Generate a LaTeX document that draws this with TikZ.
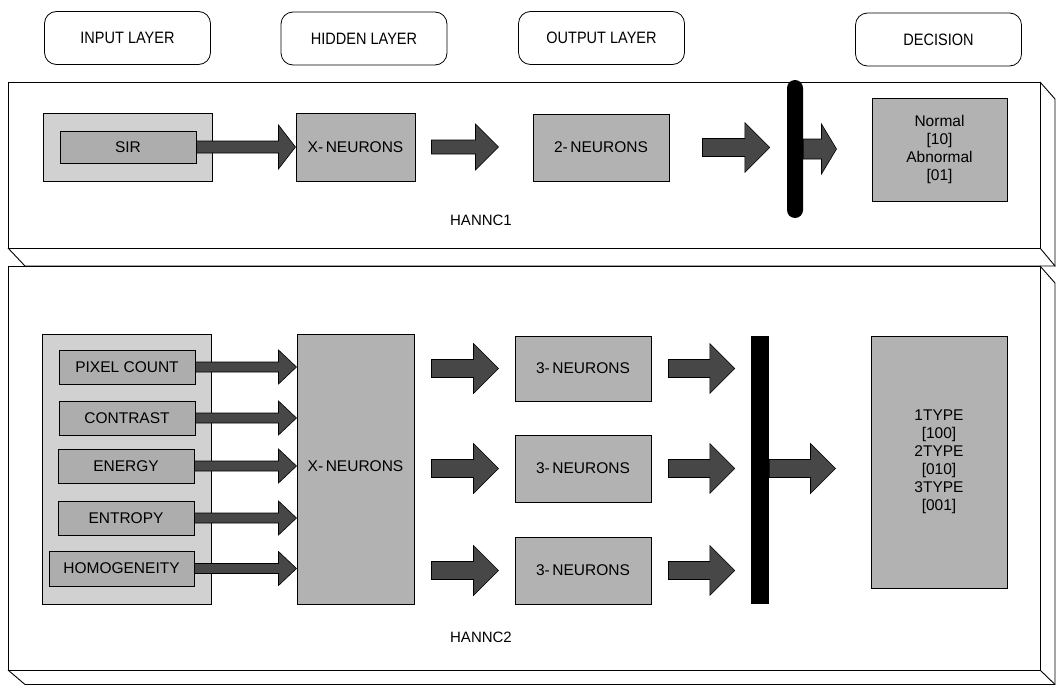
\documentclass[tikz,border=0pt]{standalone}
\usepackage{fontspec}
\setmainfont{Liberation Sans}
\newfontfamily\narrowfont[FakeStretch=0.88]{Liberation Sans}
\usetikzlibrary{calc}
\tikzset{
  hdr/.style={draw, rounded corners=12pt, minimum width=166pt, minimum height=53pt, line width=0.8pt,
    font=\narrowfont\fontsize{16.5}{18}\selectfont},
  panelline/.style={line width=0.9pt},
  outerbox/.style={draw, fill=black!18, line width=0.8pt, inner sep=0pt},
  inbox/.style={draw, fill=black!32, line width=1pt, inner sep=0pt, font=\fontsize{15.5}{18}\selectfont},
  neubox/.style={draw, fill=black!30, line width=1pt, inner sep=0pt, align=center, font=\fontsize{15.5}{18}\selectfont},
  arrowshape/.style={fill=black!72, draw=black, line width=0.6pt},
  barnode/.style={fill=black, inner sep=0pt},
  lbl/.style={font=\fontsize{15}{16}\selectfont}
}
% from, to, shorten start, shorten end, shaft half, head half, head length
\newcommand\blockarrow[7]{%
  \path (#1) coordinate (bas0);
  \path ($(bas0)+(#3,0)$) coordinate (bas);
  \path (bas -| #2) coordinate (bae0);
  \path ($(bae0)+(-#4,0)$) coordinate (bae);
  \filldraw[arrowshape] ($(bas)+(0,-#5)$) -- ($(bae)+(-#7,-#5)$) -- ($(bae)+(-#7,-#6)$) -- (bae)
    -- ($(bae)+(-#7,#6)$) -- ($(bae)+(-#7,#5)$) -- ($(bas)+(0,#5)$) -- cycle;}
\begin{document}
\begin{tikzpicture}[x=1pt,y=-1pt]
\useasboundingbox (0,0) rectangle (1056,685);
% header
\node[hdr] (hin)  at (127.5,38) {INPUT LAYER};
\node[hdr] (hhid) at (364,38.5) {HIDDEN LAYER};
\node[hdr] (hout) at (601.5,38) {OUTPUT LAYER};
\node[hdr] (hdec) at (938.5,39.5) {DECISION};
% panel 1
\draw[panelline] (8,82) rectangle (1040,248);
\draw[panelline] (1040,82) -- (1055,99) -- (1055,266);
\draw[panelline] (8,248) -- (25,266) -- (1055,266) -- (1040,248);
% panel 2
\draw[panelline] (8,266) rectangle (1040,670);
\draw[panelline] (1040,266) -- (1055,283) -- (1055,684.5) -- (25,684.5) -- (8,670);
\draw[panelline] (1040,670) -- (1055,684.5);
% top network
\node[outerbox, minimum width=169pt, minimum height=68pt] (sirout) at (127.5,147) {};
\node[inbox, minimum width=136pt, minimum height=32pt] (sir) at (128,147) {SIR};
\node[neubox, minimum width=119pt, minimum height=68pt] (xn1) at (355.5,147) {X-\,NEURONS};
\node[neubox, minimum width=136pt, minimum height=67pt] (n2) at (601,147.5) {2-\,NEURONS};
\node[barnode, minimum width=16pt, minimum height=138pt, rounded corners=8pt] (bar1) at (795,149) {};
\node[neubox, minimum width=135pt, minimum height=103pt] (dec1) at (939.5,149.5) {Normal\\{}[10]\\Abnormal\\{}[01]};
\node[lbl] (hannc1) at (481,220) {HANNC1};
\blockarrow{sir.east}{xn1.west}{0}{0}{6}{22}{17}
\blockarrow{xn1.east}{n2.west}{16}{34}{7}{23}{23}
\blockarrow{n2.east}{bar1.west}{33}{17}{9}{25}{25}
\blockarrow{bar1.east}{dec1.west}{0}{35}{10}{25}{15}
% bottom network
\node[outerbox, minimum width=169pt, minimum height=270pt] (inout) at (126.5,469) {};
\node[inbox, minimum width=136pt, minimum height=34pt] (pix) at (127,367) {PIXEL COUNT};
\node[inbox, minimum width=136pt, minimum height=34pt] (con) at (127,418) {CONTRAST};
\node[inbox, minimum width=136pt, minimum height=34pt] (ene) at (126,466) {ENERGY};
\node[inbox, minimum width=136pt, minimum height=34pt] (ent) at (126,518) {ENTROPY};
\node[inbox, minimum width=145pt, minimum height=35pt] (hom) at (121.5,568.5) {HOMOGENEITY};
\node[neubox, minimum width=117pt, minimum height=270pt] (xn2) at (355.5,469) {};
\node[font=\fontsize{15.5}{18}\selectfont] (xn2t) at (xn2 |- ene) {X-\,NEURONS};
\node[neubox, minimum width=136pt, minimum height=65pt] (n3a) at (583,368.5) {3-\,NEURONS};
\node[neubox, minimum width=136pt, minimum height=67pt] (n3b) at (583,468.5) {3-\,NEURONS};
\node[neubox, minimum width=136pt, minimum height=67pt] (n3c) at (583,570.5) {3-\,NEURONS};
\node[barnode, minimum width=18pt, minimum height=268pt] (bar2) at (760,470) {};
\node[neubox, minimum width=136pt, minimum height=252pt] (dec2) at (939,462) {1TYPE\\{}[100]\\2TYPE\\{}[010]\\3TYPE\\{}[001]};
\node[lbl] (hannc2) at (481,637) {HANNC2};
\foreach \s in {pix,con,ene,ent,hom}{
  \blockarrow{\s.east}{xn2.west}{0}{0}{5}{17}{18}
}
\foreach \t in {n3a,n3b,n3c}{
  \blockarrow{xn2.east |- \t.west}{\t.west}{17}{16}{9}{25}{25}
  \blockarrow{\t.east}{bar2.west}{17}{16}{9}{25}{25}
}
\blockarrow{bar2.east |- n3b.east}{dec2.west}{0}{35}{9}{25}{25}
\end{tikzpicture}
\end{document}
